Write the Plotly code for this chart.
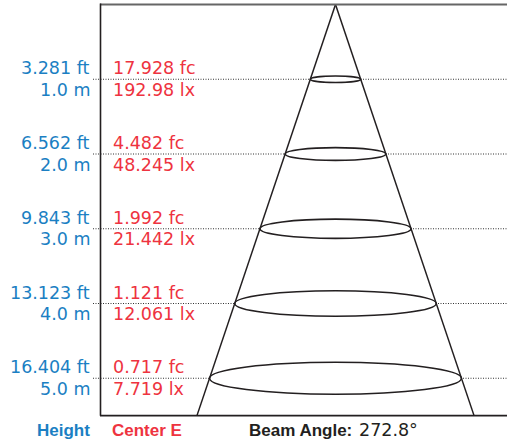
import plotly.graph_objects as go

# ---- data ----
heights_m = [1.0, 2.0, 3.0, 4.0, 5.0]
height_ft_labels = ["3.281 ft", "6.562 ft", "9.843 ft", "13.123 ft", "16.404 ft"]
height_m_labels = ["1.0 m", "2.0 m", "3.0 m", "4.0 m", "5.0 m"]
center_fc_labels = ["17.928 fc", "4.482 fc", "1.992 fc", "1.121 fc", "0.717 fc"]
center_lx_labels = ["192.98 lx", "48.245 lx", "21.442 lx", "12.061 lx", "7.719 lx"]
beam_angle_label = "272.8°"
max_height_m = 5.5          # drawing depth of the cone
spread_per_m = 0.337        # cone radius per metre of distance (schematic)
ellipse_ratio = 0.127       # vertical/horizontal ratio of the beam ellipses

# ---- layout constants (pixel geometry) ----
W, H = 507, 447
PX_PER_M = 74.75
APEX_PX_X, APEX_PX_Y = 335.5, 4.5

def mx(px):  # pixel x -> data x (m)
    return (px - APEX_PX_X) / PX_PER_M

def my(py):  # pixel y -> data y (m)
    return (py - APEX_PX_Y) / PX_PER_M

def dy(d):   # pixel distance -> data distance
    return d / PX_PER_M

BLUE = "#1b7fc3"
RED = "#ee3340"
DARK = "#231f20"
REG = "DejaVu Sans"
BOLD = "Liberation Sans"

shapes = []
annotations = []

# dotted reference lines
for h in heights_m:
    shapes.append(dict(type="line", xref="x", yref="y", x0=mx(93), x1=mx(507), y0=h, y1=h,
                       line=dict(color="#333333", width=1, dash="1px,1.5px")))

# beam ellipses (white fill hides dotted line inside)
for h in heights_m:
    r = spread_per_m * h
    v = r * ellipse_ratio
    shapes.append(dict(type="circle", xref="x", yref="y", x0=-r, x1=r, y0=h - v, y1=h + v,
                       fillcolor="white", line=dict(color=DARK, width=1.6)))

# cone edges
rb = spread_per_m * max_height_m
for s in (-1, 1):
    shapes.append(dict(type="line", xref="x", yref="y", x0=0, y0=0, x1=s * rb, y1=max_height_m,
                       line=dict(color=DARK, width=1.5)))

# frame lines
shapes.append(dict(type="line", xref="x", yref="y", x0=mx(100), x1=mx(507), y0=0, y1=0,
                   line=dict(color="#666666", width=2.2)))
shapes.append(dict(type="line", xref="x", yref="y", x0=mx(100.5), x1=mx(100.5), y0=my(3.5), y1=max_height_m,
                   line=dict(color=DARK, width=1.6)))
shapes.append(dict(type="line", xref="x", yref="y", x0=mx(100), x1=mx(507), y0=max_height_m, y1=max_height_m,
                   line=dict(color=DARK, width=1.6)))

# labels
for h, ft, m, fc, lx in zip(heights_m, height_ft_labels, height_m_labels, center_fc_labels, center_lx_labels):
    annotations += [
        dict(x=mx(92), y=h - dy(11), text=ft, xanchor="right", yanchor="middle",
             font=dict(family=REG, size=17.5, color=BLUE)),
        dict(x=mx(92), y=h + dy(10.5), text=m, xanchor="right", yanchor="middle",
             font=dict(family=REG, size=17.5, color=BLUE)),
        dict(x=mx(111), y=h - dy(11), text=fc, xanchor="left", yanchor="middle",
             font=dict(family=REG, size=17.5, color=RED)),
        dict(x=mx(111), y=h + dy(10.5), text=lx, xanchor="left", yanchor="middle",
             font=dict(family=REG, size=17.5, color=RED)),
    ]

yb = my(430)
annotations += [
    dict(x=mx(92), y=yb, text="<b>Height</b>", xanchor="right", yanchor="middle",
         font=dict(family=BOLD, size=17, color=BLUE)),
    dict(x=mx(110), y=yb, text="<b>Center E</b>", xanchor="left", yanchor="middle",
         font=dict(family=BOLD, size=17, color=RED)),
    dict(x=mx(354), y=yb, text="<b>Beam Angle:</b>", xanchor="right", yanchor="middle",
         font=dict(family=BOLD, size=17, color=DARK)),
    dict(x=mx(357), y=yb, text=beam_angle_label, xanchor="left", yanchor="middle",
         font=dict(family=REG, size=17.5, color=DARK)),
]
for a in annotations:
    a.update(xref="x", yref="y", showarrow=False)

fig = go.Figure()
fig.add_trace(go.Scatter(x=[0], y=[0], mode="markers", marker=dict(opacity=0), hoverinfo="skip", showlegend=False))
fig.update_layout(
    width=W, height=H, margin=dict(l=0, r=0, t=0, b=0),
    paper_bgcolor="white", plot_bgcolor="white",
    xaxis=dict(range=[mx(0), mx(W)], visible=False, fixedrange=True),
    yaxis=dict(range=[my(H), my(0)], visible=False, fixedrange=True),
    shapes=shapes, annotations=annotations, showlegend=False,
)
fig.write_html("out.html", config={"displayModeBar": False},
               post_script="document.body.style.margin='0';document.body.style.overflow='hidden';")
